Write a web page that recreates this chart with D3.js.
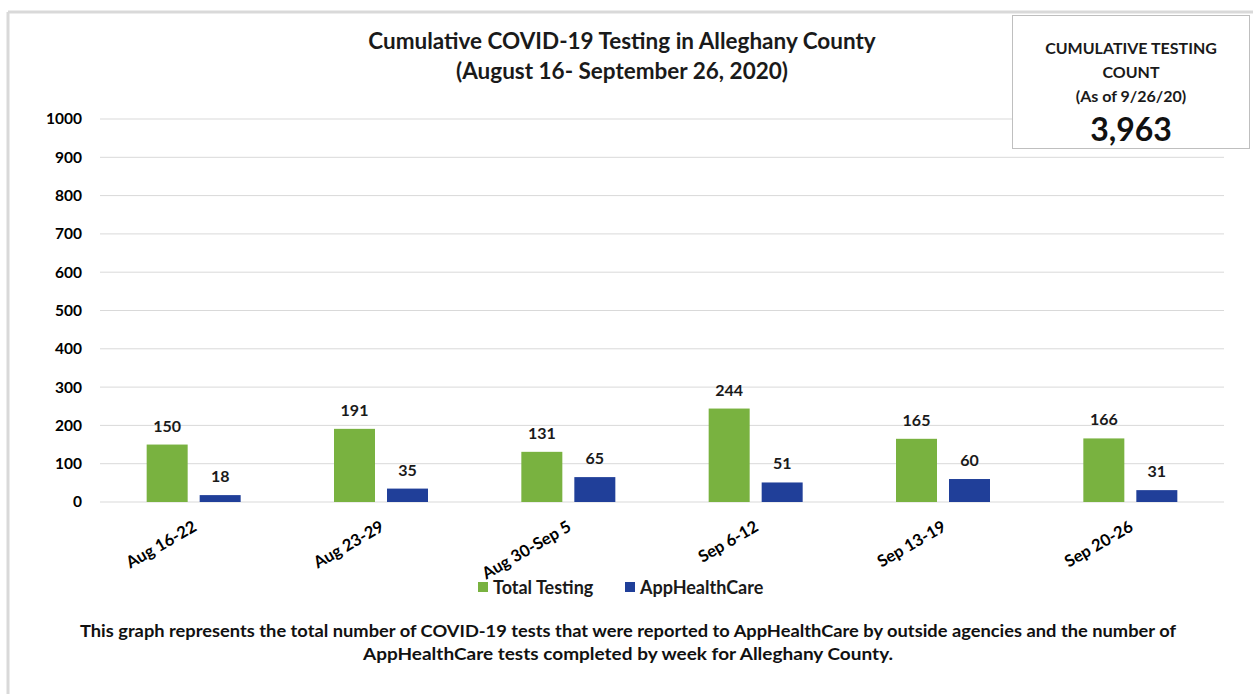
<!DOCTYPE html>
<html><head><meta charset="utf-8">
<script src="https://cdn.jsdelivr.net/npm/d3@7"></script>
<style>
html,body{margin:0;padding:0;background:#fff;}
svg{display:block;font-family:Lato,"Open Sans",sans-serif;}
</style></head>
<body><svg id="c" width="1253" height="694"></svg>
<script>
const categories = ["Aug 16-22","Aug 23-29","Aug 30-Sep 5","Sep 6-12","Sep 13-19","Sep 20-26"];
const totalTesting = [150,191,131,244,165,166];
const appHealthCare = [18,35,65,51,60,31];
const seriesNames = ["Total Testing","AppHealthCare"];
const yTicks = [0,100,200,300,400,500,600,700,800,900,1000];
const colors = ["#79b240","#203f99"];
const cumulativeCount = "3,963";

const svg = d3.select("#c");
// outer frame
svg.append("line").attr("x1",8).attr("x2",1253).attr("y1",12).attr("y2",12).attr("stroke","#d9d9d9").attr("stroke-width",3);
svg.append("line").attr("x1",8).attr("x2",8).attr("y1",12).attr("y2",694).attr("stroke","#d9d9d9").attr("stroke-width",3);

const x0 = d3.scaleBand().domain(categories).range([100,1224]);
const bw = x0.bandwidth();
const x1 = d3.scaleBand().domain(seriesNames).range([bw/2-47,bw/2+47]).paddingInner(12/53).paddingOuter(0);
const y = d3.scaleLinear().domain([0,1000]).range([502,119]);

// gridlines
svg.append("g").selectAll("line").data(yTicks).join("line")
  .attr("x1",100).attr("x2",1224).attr("y1",d=>y(d)).attr("y2",d=>y(d))
  .attr("stroke","#d9d9d9").attr("stroke-width",1);

// y axis labels
const yAxis = d3.axisLeft(y).tickValues(yTicks).tickSize(0).tickPadding(0).tickFormat(d3.format("d"));
const ya = svg.append("g").attr("transform","translate(82,0)").call(yAxis);
ya.select(".domain").remove();
ya.selectAll("text").attr("font-size",15.5).attr("font-weight","bold").attr("fill","#000").attr("font-family","Lato");

// bars
const data = categories.map((c,i)=>({c, vals:[totalTesting[i],appHealthCare[i]]}));
const g = svg.append("g").selectAll("g").data(data).join("g").attr("transform",d=>`translate(${x0(d.c)},0)`);
g.selectAll("rect").data(d=>d.vals.map((v,j)=>({v,s:seriesNames[j],j}))).join("rect")
  .attr("x",d=>x1(d.s)).attr("width",x1.bandwidth())
  .attr("y",d=>y(d.v)).attr("height",d=>y(0)-y(d.v)).attr("fill",d=>colors[d.j]);
g.selectAll("text").data(d=>d.vals.map((v,j)=>({v,s:seriesNames[j],j}))).join("text")
  .attr("x",d=>x1(d.s)+x1.bandwidth()/2).attr("y",d=>y(d.v)-13)
  .attr("text-anchor","middle").attr("font-size",16).attr("font-weight","bold").attr("fill","#1a1a1a")
  .text(d=>d.v);

// x labels
const xAxis = d3.axisBottom(x0).tickSize(0).tickPadding(0);
const xa = svg.append("g").attr("transform","translate(0,502)").call(xAxis);
xa.select(".domain").remove();
xa.selectAll("text").attr("font-size",16.5).attr("font-weight","bold").attr("fill","#000").attr("font-family","Lato")
  .attr("text-anchor","end").attr("dy",0).attr("transform","translate(4,28) rotate(-30)");

// legend
const leg = [{x:478,s:0},{x:625,s:1}];
leg.forEach(l=>{
  svg.append("rect").attr("x",l.x).attr("y",582).attr("width",10).attr("height",10).attr("fill",colors[l.s]);
  svg.append("text").attr("x",l.x+15).attr("y",594).attr("font-size",18).attr("font-weight","bold").attr("fill","#1a1a1a").text(seriesNames[l.s]);
});

// title
svg.append("text").attr("x",622).attr("y",49).attr("text-anchor","middle").attr("font-size",22.5).attr("font-weight","bold").attr("fill","#1a1a1a").text("Cumulative COVID-19 Testing in Alleghany County");
svg.append("text").attr("x",622).attr("y",79).attr("text-anchor","middle").attr("font-size",22.5).attr("font-weight","bold").attr("fill","#1a1a1a").text("(August 16- September 26, 2020)");

// box
svg.append("rect").attr("x",1012.5).attr("y",15.5).attr("width",237).attr("height",133).attr("fill","#fff").attr("stroke","#bfbfbf");
const bx = 1131;
svg.append("text").attr("x",bx).attr("y",54).attr("text-anchor","middle").attr("font-size",16).attr("font-weight","bold").attr("fill","#1a1a1a").text("CUMULATIVE TESTING");
svg.append("text").attr("x",bx).attr("y",78).attr("text-anchor","middle").attr("font-size",16).attr("font-weight","bold").attr("fill","#1a1a1a").text("COUNT");
svg.append("text").attr("x",bx).attr("y",102).attr("text-anchor","middle").attr("font-size",16).attr("font-weight","bold").attr("fill","#1a1a1a").text("(As of 9/26/20)");
svg.append("text").attr("x",bx).attr("y",141).attr("text-anchor","middle").attr("font-size",32).attr("font-weight","bold").attr("fill","#111").text(cumulativeCount);

// footnote
svg.append("text").attr("x",628).attr("y",637).attr("text-anchor","middle").attr("font-size",17).attr("font-weight","bold").attr("fill","#111")
  .attr("textLength",1096).attr("lengthAdjust","spacingAndGlyphs")
  .text("This graph represents the total  number of COVID-19 tests that were reported to AppHealthCare by outside agencies and the number of");
svg.append("text").attr("x",628).attr("y",660).attr("text-anchor","middle").attr("font-size",17).attr("font-weight","bold").attr("fill","#111")
  .attr("textLength",530).attr("lengthAdjust","spacingAndGlyphs")
  .text("AppHealthCare tests completed by week for Alleghany County.");
</script></body></html>
